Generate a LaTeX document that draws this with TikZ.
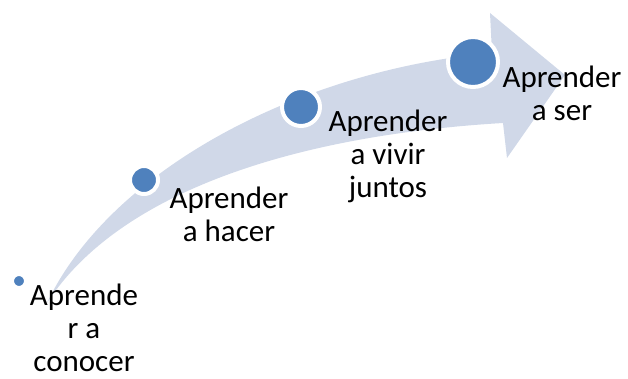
\documentclass[tikz,border=0pt]{standalone}
\usepackage{fontspec}
\setmainfont{Carlito}
\definecolor{arrowgray}{HTML}{D0D8E8}
\definecolor{dotblue}{HTML}{4F81BD}
\tikzset{
  dot/.style={circle, fill=dotblue, draw=white, line width=2pt, inner sep=0pt},
  steptext/.style={align=center, anchor=base, inner sep=0pt,
    font=\fontsize{15.5}{16.5}\selectfont}
}
\begin{document}
\begin{tikzpicture}[x=0.5pt, y=-0.5pt]
  \useasboundingbox (0,0) rectangle (628,379);

  % Draw the arrow
  \fill[arrowgray] (47,303) .. controls (110,170) and (300,70) .. (492,53)
    -- (490,13) -- (565,75) -- (507,158) -- (503,123)
    .. controls (300,135) and (120,190) .. (47,303) -- cycle;

  % Draw the dots on the arrow
  \node[dot, minimum size=7pt] (conocer) at (19,281) {};
  \node[dot, minimum size=14pt] (hacer) at (144,180) {};
  \node[dot, minimum size=19pt] (juntos) at (301,107) {};
  \node[dot, minimum size=25pt] (ser) at (473,62) {};

  % Draw the texts (base is the last line)
  \node[steptext] (conocertext) at (84,372) {Aprende\\r a\\conocer};
  \node[steptext] (hacertext) at (229,242) {Aprender\\a hacer};
  \node[steptext] (juntostext) at (388,198) {Aprender\\a vivir\\juntos};
  \node[steptext] (sertext) at (562,121) {Aprender\\a ser};
\end{tikzpicture}
\end{document}
